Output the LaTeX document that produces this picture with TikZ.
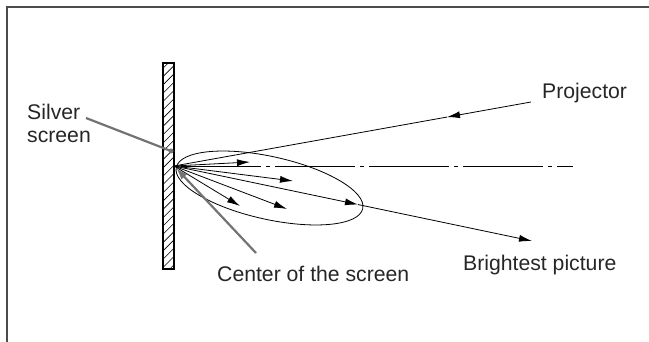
\documentclass[tikz,border=0pt]{standalone}
\usepackage{fontspec}
\setmainfont{Liberation Sans}
\usetikzlibrary{arrows.meta,positioning}

\begin{document}
\begin{tikzpicture}[
        x=1pt, y=-1pt,
        ray/.style={line width=0.8pt, -{Latex[length=13pt,width=7pt]}},
        beam/.style={line width=0.8pt},
        pointer/.style={line width=2.2pt, draw=black!55},
        txt/.style={inner sep=0pt, font=\fontsize{21.2}{23}\selectfont, text=black!85}]

      \useasboundingbox (0,0) rectangle (649,342);

      % frame
      \draw[line width=1.3pt, black!70] (7,342) -- (7,7) -- (649,7);

      % screen
      \begin{scope}
        \clip (163,63) rectangle (174,269);
        \foreach \y in {60,68.3,...,290}
          \draw[line width=0.6pt] (163,\y) -- (174,\y-11);
      \end{scope}
      \draw[line width=1.3pt] (163,63) rectangle (174,269);

      \coordinate (c) at (174,166);

      % reflected light
      \draw[beam, rotate around={-12.5:(269.5,188)}] (269.5,188) ellipse [x radius=95.5, y radius=31.4];

      \coordinate (r1) at (250,162);
      \coordinate (r2) at (293,181);
      \coordinate (r3) at (240,206);
      \coordinate (r4) at (287,209);
      \coordinate (bmid) at (358,204.55);
      \coordinate (bend) at (532,241);
      \coordinate (pend) at (531,102);
      \coordinate (pmid) at (447,117.06);
      \coordinate (axis) at (573,166);

      \draw[line width=0.7pt, dash pattern=on 80pt off 5pt on 4pt off 5pt, dash phase=87pt] (c) -- (axis);

      \foreach \t in {r1, r2, r3, r4, bmid}
        \draw[ray] (c) -- (\t);
      \draw[ray] (bmid) -- (bend);
      \draw[ray] (pend) -- (pmid);
      \draw[beam] (pmid) -- (c);

      % labels
      \node[txt, anchor=base west] (projector) at (542,99) {Projector};
      \node[txt, anchor=base west] (bright) at (463,271) {Brightest picture};
      \node[txt, anchor=base west] (ctext) at (217,282) {Center of the screen};
      \node[txt, anchor=base west, align=left] (silver) at (27,143) {Silver\\screen};

      \coordinate (sstart) at (86,118);
      \coordinate (sdot) at (171,151);
      \coordinate (cstart) at (256,253);
      \coordinate (ctip) at (176,168);

      \draw[pointer] (sstart) -- (sdot);
      \fill[black!55] (sdot) circle (2.5);
      \draw[pointer, -{Latex[length=12pt,width=8pt]}] (cstart) -- (ctip);

    \end{tikzpicture}
\end{document}
